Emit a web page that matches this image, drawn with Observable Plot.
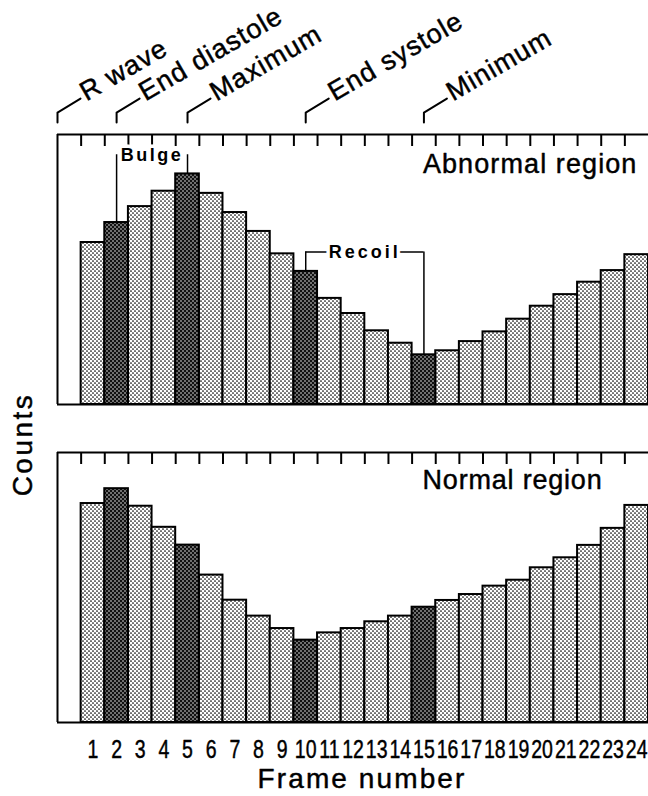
<!DOCTYPE html>
<html>
<head>
<meta charset="utf-8">
<script src="https://cdn.jsdelivr.net/npm/d3@7"></script>
<script src="https://cdn.jsdelivr.net/npm/@observablehq/plot@0.6"></script>
<style>
  html, body { margin: 0; padding: 0; background: #fff; }
</style>
</head>
<body>
<div id="chart"></div>
<script>
// ---- data ----
const frames = d3.range(1, 25);
const abnormalCounts = [60.0, 67.4, 73.3, 79.0, 85.4, 78.2, 71.1, 64.1, 55.8, 49.3, 39.3, 33.7,
                        27.3, 22.7, 18.4, 19.9, 23.3, 26.9, 31.6, 36.4, 40.7, 45.3, 49.6, 55.5];
const normalCounts   = [81.1, 86.6, 80.1, 72.3, 65.7, 54.6, 45.3, 39.4, 34.8, 30.5, 33.2, 34.8,
                        37.3, 39.4, 42.7, 45.2, 47.4, 50.5, 52.7, 57.3, 61.0, 65.6, 71.9, 80.4];
const highlightedFrames = [2, 5, 10, 15];
const panels = ["Abnormal region", "Normal region"];
const events = ["R wave", "End diastole", "Maximum", "End systole", "Minimum"];
const eventFrames = [0, 2, 5, 10, 15];            // R wave = start of cycle (before frame 1)
const bracketLabels = ["Bulge", "Recoil"];
const bracketFrom = [2, 10];
const bracketTo = [5, 15];

// ---- tables built from the arrays ----
const seriesByPanel = [abnormalCounts, normalCounts];
const rows = panels.flatMap((p, i) => frames.map((f, j) => ({
  panel: p, frame: f, count: seriesByPanel[i][j], dark: highlightedFrames.includes(f)
})));
const eventX = f => (f === 0 ? -0.5 : f);           // R wave sits on the left frame edge
const eventRows = events.map((e, i) => ({event: e, x: eventX(eventFrames[i])}));
const countOf = f => abnormalCounts[frames.indexOf(f)];
const bracketRows = bracketLabels.map((l, i) => ({label: l, from: bracketFrom[i], to: bracketTo[i]}));

// pixel -> data helpers (layout constants)
const PX_X = 25 / 591;      // data units per pixel (x)
const PX_Y = 100 / 270.4;   // data units per pixel (y)
const bracketLevel = {Bulge: 92.5, Recoil: 56.5};

// leader brackets for the event labels (offsets in px from the frame top)
const leaderPts = eventRows.flatMap(d => [[0, 12], [0, 22], [23, 36]].map(([ox, oy]) => ({
  event: d.event, x: d.x + ox * PX_X, y: 100 + oy * PX_Y
})));

const topPanel = () => panels[0];
const bottomPanel = () => panels[1];
const ink = {stroke: "black", strokeWidth: 0.45, fill: "black"};

const chart = Plot.plot({
  width: 648,
  height: 796,
  marginLeft: 57,
  marginRight: 0,
  marginTop: 134,
  marginBottom: 73,
  x: {domain: [-0.5, 24.5], axis: null},
  y: {domain: [0, 100], axis: null},
  fy: {domain: panels, axis: null, paddingInner: 0.1507, paddingOuter: 0},
  style: {fontFamily: "'Liberation Sans', Arial, Helvetica, sans-serif", background: "white", color: "black", overflow: "visible"},
  marks: [
    // bars
    Plot.rect(rows.filter(d => !d.dark), {
      x1: d => d.frame - 0.5, x2: d => d.frame + 0.5, y1: 0, y2: "count", fy: "panel",
      fill: "url(#stipple-light)", stroke: "black", strokeWidth: 2
    }),
    Plot.rect(rows.filter(d => d.dark), {
      x1: d => d.frame - 0.5, x2: d => d.frame + 0.5, y1: 0, y2: "count", fy: "panel",
      fill: "url(#stipple-dark)", stroke: "black", strokeWidth: 2
    }),
    // frame (left, top, bottom) and top ticks, in each panel
    Plot.ruleX([-0.5], {strokeWidth: 2}),
    Plot.ruleY([0, 100], {strokeWidth: 2}),
    Plot.ruleX(frames, {x: d => d - 0.5, y1: 100, y2: 100 - 12 * PX_Y, strokeWidth: 2}),
    // panel titles
    Plot.text([panels[0]], {text: d => d, fy: d => d, x: 24.5, y: 100, textAnchor: "end",
      lineAnchor: "top", dx: -11, dy: 19, fontSize: 27, ...ink}),
    Plot.text([panels[1]], {text: d => d, fy: d => d, x: 24.5, y: 100, textAnchor: "end",
      lineAnchor: "top", dx: -46, dy: 17.5, fontSize: 27, ...ink}),
    // Bulge / Recoil brackets
    Plot.ruleX(bracketRows, {x: "from", y1: d => countOf(d.from), y2: d => bracketLevel[d.label], fy: topPanel, strokeWidth: 1.5}),
    Plot.ruleX(bracketRows, {x: "to", y1: d => countOf(d.to), y2: d => bracketLevel[d.label], fy: topPanel, strokeWidth: 1.5}),
    Plot.ruleY(bracketRows.filter(d => d.label === "Recoil"), {x1: "from", x2: "to", y: d => bracketLevel[d.label], fy: topPanel, strokeWidth: 1.5}),
    Plot.text(bracketRows, {x: d => (d.from + d.to) / 2, y: d => bracketLevel[d.label], text: "label", fy: topPanel,
      fontSize: 18, fontWeight: "bold", lineAnchor: "middle", stroke: "white", strokeWidth: 7, fill: "black"}),
    // event labels above the top panel
    Plot.line(leaderPts, {x: "x", y: "y", z: "event", fy: topPanel, strokeWidth: 2, curve: "linear"}),
    Plot.text(eventRows, {x: "x", y: 100, text: "event", fy: topPanel, rotate: -30, textAnchor: "start",
      lineAnchor: "bottom", dx: 29, dy: -33, fontSize: 27, ...ink}),
    // frame numbers and axis titles
    Plot.text(frames, {x: d => d, y: 0, text: d => String(d), fy: bottomPanel, dy: 27,
      fontSize: 25, ...ink}),
    Plot.text(["Frame number"], {text: d => d, fy: bottomPanel, x: 12, y: 0, lineAnchor: "bottom", dx: 9, dy: 65, fontSize: 28, ...ink}),
    Plot.text(["Counts"], {text: d => d, fy: topPanel, x: -0.5, y: 0, rotate: -90, dx: -34, dy: 40, fontSize: 28, ...ink})
  ]
});

// stipple patterns
const defs = d3.select(chart).insert("defs", ":first-child");
const light = defs.append("pattern").attr("id", "stipple-light").attr("patternUnits", "userSpaceOnUse")
  .attr("width", 4).attr("height", 4);
light.append("rect").attr("width", 4).attr("height", 4).attr("fill", "white");
light.append("circle").attr("cx", 1).attr("cy", 1).attr("r", 0.85).attr("fill", "black");
light.append("circle").attr("cx", 3).attr("cy", 3).attr("r", 0.85).attr("fill", "black");
const dark = defs.append("pattern").attr("id", "stipple-dark").attr("patternUnits", "userSpaceOnUse")
  .attr("width", 4).attr("height", 4);
dark.append("rect").attr("width", 4).attr("height", 4).attr("fill", "#111");
dark.append("circle").attr("cx", 1).attr("cy", 1).attr("r", 0.75).attr("fill", "white");
dark.append("circle").attr("cx", 3).attr("cy", 3).attr("r", 0.75).attr("fill", "white");

// letter spacing for the wide-set labels, condensed frame numbers
const spacing = {"Counts": 2.5, "Frame number": 2.1, "Normal region": 0.8, "Abnormal region": 1.1,
                 "Bulge": 2.5, "Recoil": 3, "R wave": 1, "End diastole": 1, "Maximum": 1, "End systole": 1, "Minimum": 1};
d3.select(chart).selectAll("text").each(function() {
  const t = this.textContent;
  if (spacing[t]) this.style.letterSpacing = spacing[t] + "px";
  if (/^\d+$/.test(t)) {
    const tr = this.getAttribute("transform") || "";
    this.setAttribute("transform", tr + " scale(0.78,1)");
  }
});

document.getElementById("chart").appendChild(chart);
</script>
</body>
</html>
